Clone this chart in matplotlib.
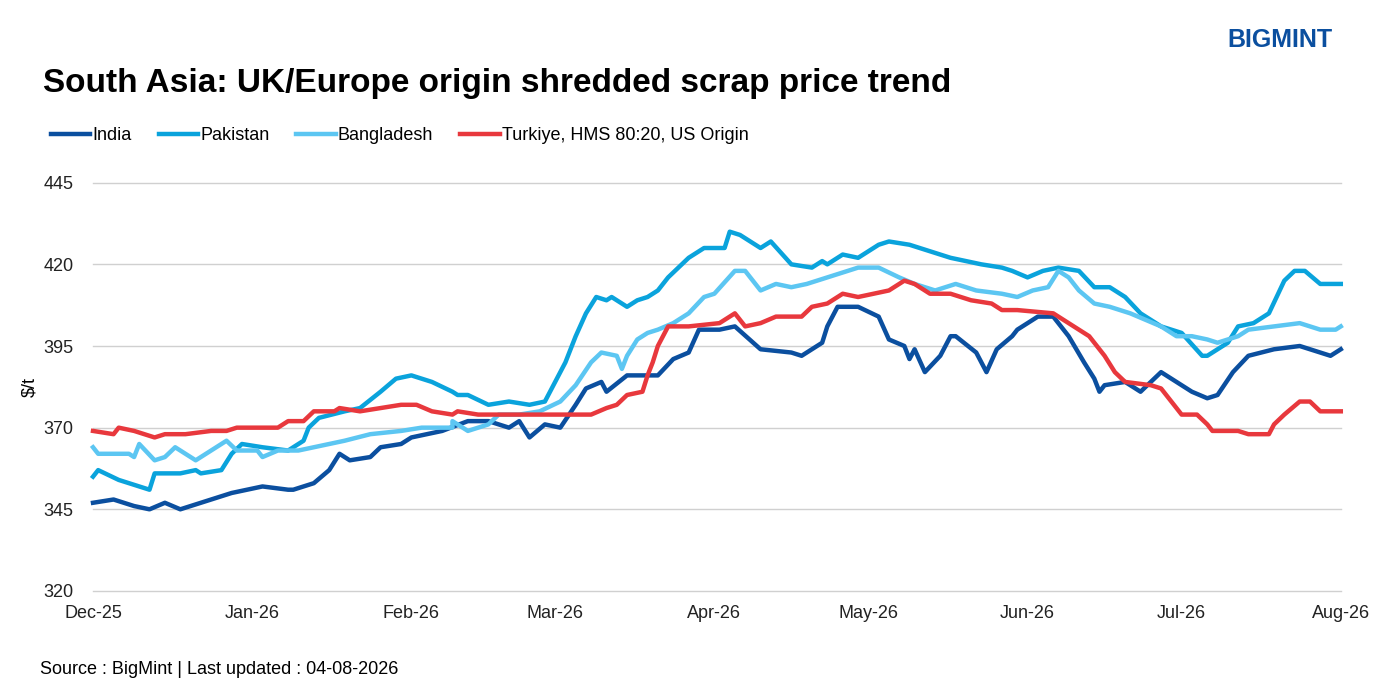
import matplotlib
matplotlib.use("Agg")
import matplotlib.pyplot as plt
import pandas as pd

start = pd.Timestamp("2025-12-01")

india_d = [0,4,8,11,14,17,19,21,27,33,38,39,43,46,48,50,54,56,60,62,68,73,77,81,83,85,88,91,94,96,99,100,104,110,113,116,118,122,125,130,136,138,142,143,145,149,153,155,158,159,160,162,165,167,168,172,174,176,179,180,184,187,190,193,195,196,197,201,204,208,211,214,217,219,222,225,230,235,237,241,243]
india_v = [347,348,346,345,347,345,346,347,350,352,351,351,353,357,362,360,361,364,365,367,369,372,372,370,372,367,371,370,377,382,384,381,386,386,391,393,400,400,401,394,393,392,396,401,407,407,404,397,395,391,394,387,392,398,398,393,387,394,398,400,404,404,398,390,385,381,383,384,381,387,384,381,379,380,387,392,394,395,394,392,394]

pak_d = [0,1,5,9,11,12,17,20,21,25,27,29,33,38,40,41,42,44,49,52,56,59,62,66,70,71,73,77,81,85,88,90,92,94,96,98,100,101,104,106,108,110,112,114,116,119,123,124,126,130,132,136,140,142,143,146,149,153,155,159,163,167,173,177,179,182,185,188,192,195,198,201,204,208,212,216,217,221,223,226,229,232,234,236,239,243]
pak_v = [355,357,354,352,351,356,356,357,356,357,362,365,364,363,365,366,370,373,375,376,381,385,386,384,381,380,380,377,378,377,378,384,390,398,405,410,409,410,407,409,410,412,416,419,422,425,425,430,429,425,427,420,419,421,420,423,422,426,427,426,424,422,420,419,418,416,418,419,418,413,413,410,405,401,399,392,392,396,401,402,405,415,418,418,414,414]

ban_d = [0,1,7,8,9,12,14,16,20,24,26,28,32,33,36,40,46,49,54,60,64,70,70,73,77,79,83,87,91,94,97,99,102,103,104,106,108,110,113,116,119,121,125,127,130,133,136,139,143,145,149,153,157,160,164,168,172,177,180,183,186,188,190,192,195,198,202,205,208,211,214,217,219,221,223,225,230,235,239,242,243]
ban_v = [364,362,362,361,365,360,361,364,360,364,366,363,363,361,363,363,365,366,368,369,370,370,372,369,371,374,374,375,378,383,390,393,392,388,392,397,399,400,402,405,410,411,418,418,412,414,413,414,416,417,419,419,416,414,412,414,412,411,410,412,413,418,416,412,408,407,405,403,401,398,398,397,396,397,398,400,401,402,400,400,401]

tur_d = [0,4,5,8,12,14,18,23,26,28,36,38,41,43,47,48,52,60,63,66,70,71,75,87,97,100,102,104,107,108,109,110,112,116,122,125,127,130,133,138,140,143,146,149,155,158,160,163,167,171,175,177,180,187,191,194,197,199,201,206,208,210,212,215,217,218,223,225,229,230,232,235,237,239,243]
tur_v = [369,368,370,369,367,368,368,369,369,370,370,372,372,375,375,376,375,377,377,375,374,375,374,374,374,376,377,380,381,386,390,395,401,401,402,405,401,402,404,404,407,408,411,410,412,415,414,411,411,409,408,406,406,405,401,398,392,387,384,383,382,378,374,374,371,369,369,368,368,371,374,378,378,375,375]

series = [
    ("India", india_d, india_v, "#0b4f9f"),
    ("Pakistan", pak_d, pak_v, "#0aa3dc"),
    ("Bangladesh", ban_d, ban_v, "#5cc6f2"),
    ("Turkiye, HMS 80:20, US Origin", tur_d, tur_v, "#e8383d"),
]
month_labels = ["Dec-25","Jan-26","Feb-26","Mar-26","Apr-26","May-26","Jun-26","Jul-26","Aug-26"]
yticks = [320,345,370,395,420,445]

plt.rcParams['font.family'] = ['Liberation Sans', 'DejaVu Sans']
fig = plt.figure(figsize=(13.78, 6.92), dpi=100)
ax = fig.add_axes([0.0675, 0.146, 0.9055, 0.590])
for name, d, v, c in series:
    x = [start + pd.Timedelta(days=k) for k in d]
    ax.plot(x, v, color=c, lw=3.2, label=name, solid_joinstyle='round', clip_on=False)

ax.set_ylim(320, 445)
ax.set_yticks(yticks)
ax.set_xlim(start, pd.Timestamp("2026-08-01"))
ticks = pd.date_range("2025-12-01", "2026-08-01", freq="MS")
ax.set_xticks(ticks)
ax.set_xticklabels(month_labels)
ax.grid(axis='y', color='#d0d0d0', lw=1, clip_on=False)
for s in ax.spines.values():
    s.set_visible(False)
ax.tick_params(length=0, labelsize=13, colors='#222222')
ax.tick_params(axis='x', pad=10)
ax.tick_params(axis='y', pad=14)
ax.set_ylabel("$/t", fontsize=13)

fig.text(0.031, 0.88, "South Asia: UK/Europe origin shredded scrap price trend",
         fontsize=24, fontweight='bold', va='center')
fig.text(0.029, 0.032, "Source : BigMint | Last updated : 04-08-2026", fontsize=13, va='center')
fig.text(0.967, 0.942, "BIGMINT", fontsize=18, fontweight='bold', color='#0b4f9f',
         ha='right', va='center')
fig.legend(loc='upper left', bbox_to_anchor=(0.025, 0.84), ncol=4, frameon=False,
           fontsize=13, handlelength=2.2, handletextpad=0.1, columnspacing=1.5)
fig.savefig("out.png", dpi=100)
